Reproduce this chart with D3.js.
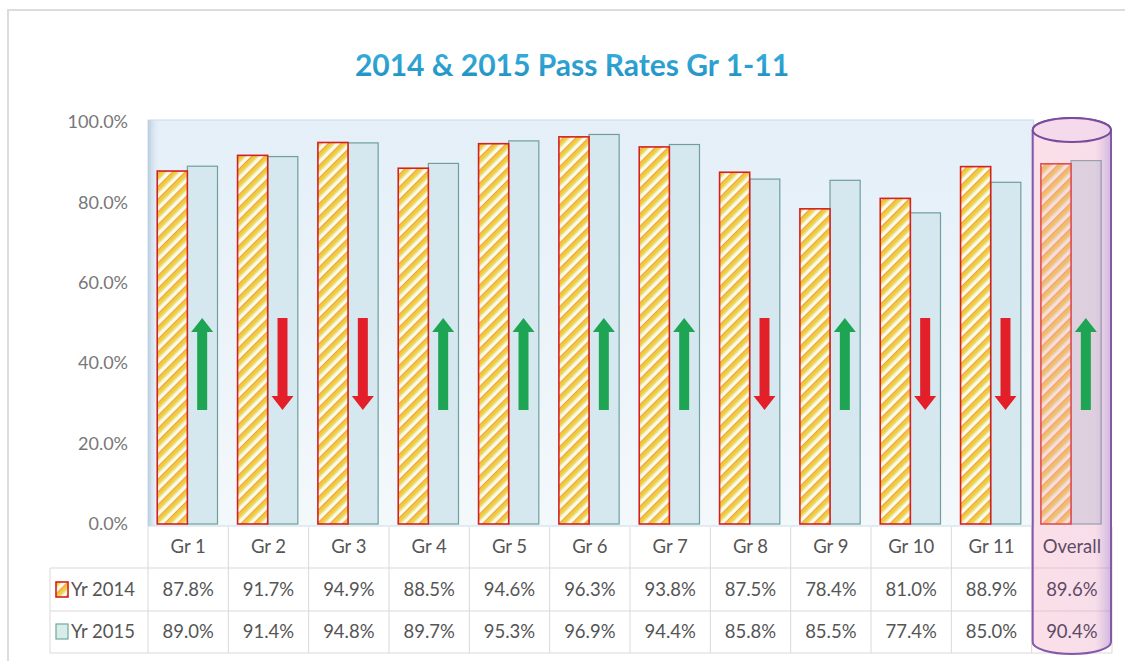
<!DOCTYPE html>
<html><head><meta charset="utf-8">
<script src="https://cdn.jsdelivr.net/npm/d3@7"></script>
<style>
html,body{margin:0;padding:0;background:#fff;}
svg{display:block;font-family:Lato,"Open Sans",sans-serif;}
</style></head>
<body>
<svg id="chart" width="1125" height="661"></svg>
<script>
const categories = ["Gr 1","Gr 2","Gr 3","Gr 4","Gr 5","Gr 6","Gr 7","Gr 8","Gr 9","Gr 10","Gr 11","Overall"];
const series = ["Yr 2014","Yr 2015"];
const values2014 = [0.878,0.917,0.949,0.885,0.946,0.963,0.938,0.875,0.784,0.810,0.889,0.896];
const values2015 = [0.890,0.914,0.948,0.897,0.953,0.969,0.944,0.858,0.855,0.774,0.850,0.904];
const yTicks = [0,0.2,0.4,0.6,0.8,1.0];
const title = "2014 & 2015 Pass Rates Gr 1-11";

const svg = d3.select("#chart");
const defs = svg.append("defs");

// stripe pattern
const pat = defs.append("pattern").attr("id","stripe").attr("patternUnits","userSpaceOnUse")
  .attr("width",9).attr("height",9).attr("patternTransform","rotate(45)");
pat.append("rect").attr("width",9).attr("height",9).attr("fill","#fffbea");
pat.append("rect").attr("x",0).attr("width",4.5).attr("height",9).attr("fill","#f1cc3c");
pat.append("rect").attr("x",0).attr("width",1.2).attr("height",9).attr("fill","#f0a24a");
pat.append("rect").attr("x",4.5).attr("width",1).attr("height",9).attr("fill","#d8d860");

const bgGrad = defs.append("linearGradient").attr("id","bgGrad").attr("x1",0).attr("y1",0).attr("x2",0).attr("y2",1);
bgGrad.append("stop").attr("offset","0%").attr("stop-color","#e4eff8");
bgGrad.append("stop").attr("offset","100%").attr("stop-color","#f3f8fb");
const shGrad = defs.append("linearGradient").attr("id","shGrad").attr("x1",0).attr("y1",0).attr("x2",1).attr("y2",0);
shGrad.append("stop").attr("offset","0%").attr("stop-color","#b9cde0");
shGrad.append("stop").attr("offset","100%").attr("stop-color","#e6f0f8").attr("stop-opacity",0);
const cylGrad = defs.append("linearGradient").attr("id","cylGrad").attr("x1",0).attr("y1",0).attr("x2",1).attr("y2",0);
cylGrad.append("stop").attr("offset","0%").attr("stop-color","#f4a6c0").attr("stop-opacity",0.35);
cylGrad.append("stop").attr("offset","80%").attr("stop-color","#eaa0c0").attr("stop-opacity",0.35);
cylGrad.append("stop").attr("offset","100%").attr("stop-color","#a070c0").attr("stop-opacity",0.5);
const titleGrad = defs.append("linearGradient").attr("id","titleGrad").attr("x1",0).attr("y1",0).attr("x2",0).attr("y2",1);
titleGrad.append("stop").attr("offset","0%").attr("stop-color","#3bb3e0");
titleGrad.append("stop").attr("offset","100%").attr("stop-color","#1f8fc0");

// frame
svg.append("path").attr("d","M8,661 V10 H1125").attr("fill","none").attr("stroke","#dcdcdc").attr("stroke-width",2);

// title
svg.append("text").attr("x",572).attr("y",76).attr("text-anchor","middle")
  .attr("font-size",30).attr("font-weight","bold").attr("fill","url(#titleGrad)").text(title);

const left = 148, right = 1112;
const x = d3.scaleBand().domain(categories).range([left,right]);
const bw = x.bandwidth();
const x1 = d3.scaleBand().domain(series).range([bw*0.115, bw*0.865]);
const y = d3.scaleLinear().domain([0,1]).range([524,122]);

// plot background
svg.append("rect").attr("x",left).attr("y",y(1)-2).attr("width",x("Overall")-left+2).attr("height",y(0)-y(1)+4)
  .attr("fill","url(#bgGrad)").attr("stroke","#c9dbe9");
svg.append("rect").attr("x",left).attr("y",y(1)-2).attr("width",12).attr("height",y(0)-y(1)+4).attr("fill","url(#shGrad)");

// y axis labels
const yAxis = d3.axisLeft(y).tickValues(yTicks).tickFormat(d3.format(".1%")).tickSize(0).tickPadding(0);
const ya = svg.append("g").attr("transform","translate(128,0)").call(yAxis);
ya.select(".domain").remove();
ya.selectAll("text").attr("font-size",18).attr("fill","#777").attr("font-family","Lato,sans-serif");

// bars
const g = svg.append("g");
categories.forEach((c,i)=>{
  g.append("rect").attr("x",x(c)+x1("Yr 2015")).attr("y",y(values2015[i])).attr("width",x1.bandwidth())
    .attr("height",y(0)-y(values2015[i])).attr("fill","#d6e8ef").attr("stroke","#6f9f9c").attr("stroke-width",1.2);
  g.append("rect").attr("x",x(c)+x1("Yr 2014")).attr("y",y(values2014[i])).attr("width",x1.bandwidth())
    .attr("height",y(0)-y(values2014[i])).attr("fill","url(#stripe)").attr("stroke","#d42020").attr("stroke-width",1.6);
});

// table grid
const rowTop = 527;
const grid = svg.append("g").attr("stroke","#d9d9d9").attr("stroke-width",1);
grid.append("line").attr("x1",50).attr("x2",right).attr("y1",568).attr("y2",568);
grid.append("line").attr("x1",50).attr("x2",right).attr("y1",611).attr("y2",611);
grid.append("line").attr("x1",50).attr("x2",right).attr("y1",653).attr("y2",653);
grid.append("line").attr("x1",50).attr("x2",50).attr("y1",568).attr("y2",653);
categories.forEach(c=>{
  grid.append("line").attr("x1",x(c)).attr("x2",x(c)).attr("y1",rowTop).attr("y2",653);
});
grid.append("line").attr("x1",right).attr("x2",right).attr("y1",rowTop).attr("y2",653);

// cylinder around Overall
const cx0 = x("Overall")+1, cw = bw-2, cyTop = 130, ry = 12, cyBot = 642;
svg.append("path")
  .attr("d",`M${cx0},${cyTop} V${cyBot} A${cw/2},${ry} 0 0 0 ${cx0+cw},${cyBot} V${cyTop} A${cw/2},${ry} 0 0 0 ${cx0},${cyTop} Z`)
  .attr("fill","url(#cylGrad)").attr("stroke","#8558a8").attr("stroke-width",2);
svg.append("ellipse").attr("cx",cx0+cw/2).attr("cy",cyTop).attr("rx",cw/2).attr("ry",ry)
  .attr("fill","#f3d8ea").attr("fill-opacity",0.8).attr("stroke","#7a4a9e").attr("stroke-width",2);

// table text
const fmt = d3.format(".1%");
const tt = svg.append("g").attr("font-size",18.5).attr("fill","#555").attr("text-anchor","middle");
categories.forEach((c,i)=>{
  const cx = x(c)+bw/2;
  const col = c === "Overall" ? "#5e4a66" : "#555";
  tt.append("text").attr("x",cx).attr("y",553).attr("fill",col).text(c);
  tt.append("text").attr("x",cx).attr("y",596).attr("fill",col).text(fmt(values2014[i]));
  tt.append("text").attr("x",cx).attr("y",638).attr("fill",col).text(fmt(values2015[i]));
});
// legend keys
svg.append("rect").attr("x",56).attr("y",582).attr("width",12).attr("height",15).attr("fill","url(#stripe)").attr("stroke","#d42020").attr("stroke-width",1.6);
svg.append("rect").attr("x",56).attr("y",624).attr("width",12).attr("height",15).attr("fill","#d6ede8").attr("stroke","#6fa8a0").attr("stroke-width",1.2);
const lt = svg.append("g").attr("font-size",18.5).attr("fill","#555");
lt.append("text").attr("x",71).attr("y",596).text(series[0]);
lt.append("text").attr("x",71).attr("y",638).text(series[1]);

// change arrows
const ag = svg.append("g");
categories.forEach((c,i)=>{
  const up = values2015[i] > values2014[i];
  const ax = x(c)+bw/2+14, top = 318, bot = 410, hw = 11, sw = 5, hl = 14;
  let d;
  if (up) {
    d = `M${ax},${top} L${ax+hw},${top+hl} L${ax+sw},${top+hl} L${ax+sw},${bot} L${ax-sw},${bot} L${ax-sw},${top+hl} L${ax-hw},${top+hl} Z`;
  } else {
    d = `M${ax},${bot} L${ax+hw},${bot-hl} L${ax+sw},${bot-hl} L${ax+sw},${top} L${ax-sw},${top} L${ax-sw},${bot-hl} L${ax-hw},${bot-hl} Z`;
  }
  ag.append("path").attr("d",d).attr("fill", up ? "#1ea553" : "#e3202a");
});
</script>
</body></html>
